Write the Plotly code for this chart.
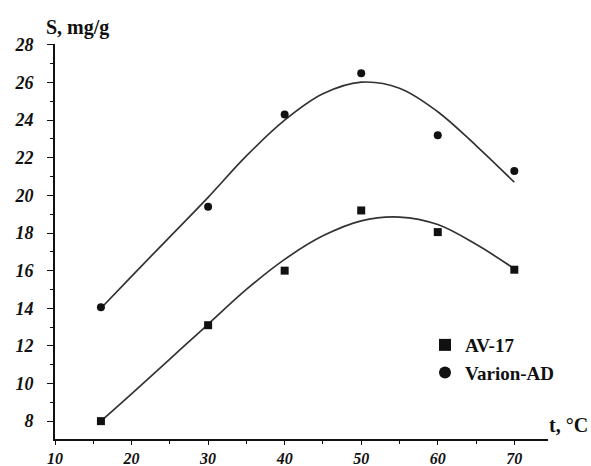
import plotly.graph_objects as go

# Measured points
temp = [16, 30, 40, 50, 60, 70]
av17 = [8.0, 13.1, 16.0, 19.2, 18.05, 16.05]
varion = [14.05, 19.4, 24.3, 26.5, 23.2, 21.3]

# Fitted trend curves
curve_t = [16, 20, 25, 30, 35, 40, 45, 50, 55, 60, 65, 70]
av17_curve = [8.0, 9.45, 11.3, 13.15, 15.0, 16.6, 17.85, 18.65, 18.85, 18.45, 17.4, 16.1]
varion_curve = [14.0, 15.7, 17.8, 19.9, 22.1, 24.0, 25.4, 26.02, 25.7, 24.45, 22.65, 20.7]

x_ticks = [10, 20, 30, 40, 50, 60, 70]
y_ticks = [8, 10, 12, 14, 16, 18, 20, 22, 24, 26, 28]

SERIF = "Liberation Serif, Times New Roman, serif"
INK = "#111111"

fig = go.Figure()
for ys in (varion_curve, av17_curve):
    fig.add_trace(go.Scatter(x=curve_t, y=ys, mode="lines",
                             line=dict(color="#333333", width=1.7, shape="spline", smoothing=1.0),
                             showlegend=False, hoverinfo="skip"))
fig.add_trace(go.Scatter(x=temp, y=av17, mode="markers", name="AV-17",
                         marker=dict(symbol="square", size=8, color=INK)))
fig.add_trace(go.Scatter(x=temp, y=varion, mode="markers", name="Varion-AD",
                         marker=dict(symbol="circle", size=8, color=INK)))

fig.update_layout(
    width=591, height=466,
    margin=dict(l=55, r=43, t=44, b=27),
    paper_bgcolor="white", plot_bgcolor="white",
    font=dict(family=SERIF, color=INK, size=13),
    legend=dict(x=0.7505, y=0.286, xanchor="left", yanchor="top",
                bgcolor="rgba(0,0,0,0)",
                font=dict(family=SERIF, size=19, weight="bold", color=INK),
                itemsizing="constant", tracegroupgap=2),
    showlegend=True,
)
fig.update_xaxes(
    automargin=False,
    range=[10, 74.4], tickmode="array", tickvals=x_ticks,
    ticktext=[str(v) for v in x_ticks],
    showline=True, linecolor=INK, linewidth=2, showgrid=False, zeroline=False,
    ticks="outside", ticklen=4, tickwidth=1.3, tickcolor=INK,
    ticklabelstandoff=0,
    tickfont=dict(family=SERIF, size=16, weight="bold", style="italic", color=INK),
    minor=dict(dtick=5, tick0=0, ticks="outside", ticklen=3, tickcolor=INK),
)
fig.update_yaxes(
    automargin=False,
    range=[7.05, 28.05], tickmode="array", tickvals=y_ticks,
    ticktext=[str(v) for v in y_ticks],
    showline=True, linecolor=INK, linewidth=2, showgrid=False, zeroline=False,
    ticks="outside", ticklen=6, tickwidth=1.3, tickcolor=INK,
    ticklabelstandoff=10,
    tickfont=dict(family=SERIF, size=18, weight="bold", style="italic", color=INK),
    minor=dict(dtick=1, tick0=0, ticks="outside", ticklen=3, tickcolor=INK),
)
fig.add_annotation(text="S, mg/g", xref="paper", yref="paper", x=-0.022, y=1.0,
                   xanchor="left", yanchor="bottom", yshift=3, showarrow=False,
                   font=dict(family=SERIF, size=20, weight="bold", color=INK))
fig.add_annotation(text="t, °C", xref="paper", yref="paper", x=1.0, y=0.0,
                   xanchor="left", yanchor="middle", xshift=-1, yshift=14, showarrow=False,
                   font=dict(family=SERIF, size=20, weight="bold", color=INK))

fig.write_html("out.html")
